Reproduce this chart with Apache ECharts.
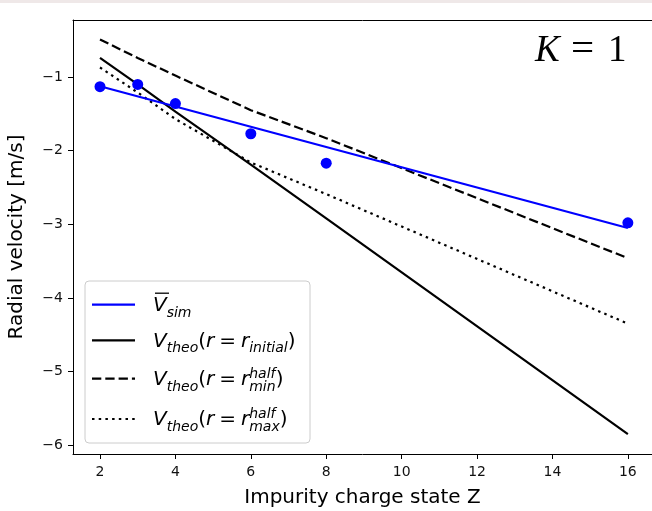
<!DOCTYPE html>
<html><head><meta charset="utf-8">
<script src="https://cdn.jsdelivr.net/npm/echarts@6/dist/echarts.min.js"></script>
<style>html,body{margin:0;padding:0;background:#fff}#c{width:652px;height:511px}</style>
</head><body><div id="c"></div>
<script>
// ---- data ----
const zSim = [2, 3, 4, 6, 8, 16];
const vSim = [-1.13, -1.10, -1.36, -1.77, -2.17, -2.98];
const zFit = [2, 16];
const vFit = [-1.125, -3.05];
const zTheo = [2, 3, 4, 6, 8, 16];
const vTheoInitial = [-0.74, -1.10, -1.47, -2.19, -2.92, -5.85];
const vTheoMinHalf = [-0.49, -0.74, -0.98, -1.45, -1.83, -3.46];
const vTheoMaxHalf = [-0.87, -1.21, -1.57, -2.16, -2.59, -4.35];
const xTicks = [2, 4, 6, 8, 10, 12, 14, 16];
const yTicks = [-6, -5, -4, -3, -2, -1];
const xRange = [1.284, 16.64];
const yRange = [-6.12, -0.225];
const xTitle = 'Impurity charge state Z';
const yTitle = 'Radial velocity [m/s]';

const pair = (xs, ys) => xs.map((x, i) => [x, ys[i]]);
const fmt = v => (v < 0 ? '\u2212' : '') + Math.abs(v);

const chart = echarts.init(document.getElementById('c'), null, {renderer: 'canvas'});

// ---- math-text helper for legend ----
const ctx = document.createElement('canvas').getContext('2d');
const MF = 'DejaVu Sans';
const F = 20;
function tw(t, size, it, fam) { ctx.font = (it ? 'italic ' : '') + size + 'px "' + fam + '"'; return ctx.measureText(t).width; }
function piece(x, base, t, size, it, fam) {
  return {type: 'text', x: x, y: base - 0.34 * size, z: 101, silent: true,
    style: {text: t, fontSize: size, fontFamily: fam, fontStyle: it ? 'italic' : 'normal', fill: '#000', verticalAlign: 'middle', align: 'left'}};
}
function mathRow(x, base, items) {
  const els = []; let pend = 0;
  for (const it of items) {
    const size = F * (it.s || 1), fam = it.fam || MF;
    x += (it.pre || 0) * F;
    els.push(piece(x, base + (it.dy || 0), it.t, size, !!it.i, fam));
    const wd = tw(it.t, size, !!it.i, fam);
    if (it.stack) { pend = Math.max(pend, wd); continue; }
    x += Math.max(wd, pend) + (it.post || 0) * F; pend = 0;
  }
  return els;
}
const SUB = 5, SUP = -8;
const head = [{t: 'V', i: 1}, {t: 'theo', i: 1, s: 0.7, dy: SUB}, {t: '('}, {t: 'r', i: 1}, {t: '=', pre: 0.25, post: 0.25}, {t: 'r', i: 1}];
const legendRows = [
  {base: 312.7, color: '#0000ff', dash: 'solid', items: [{t: 'V', i: 1}, {t: 'sim', i: 1, s: 0.7, dy: SUB}], bar: true},
  {base: 348.3, color: '#000', dash: 'solid', items: head.concat([{t: 'initial', i: 1, s: 0.7, dy: SUB}, {t: ')'}])},
  {base: 386.7, color: '#000', dash: [9.3, 4], items: head.concat([{t: 'half', i: 1, s: 0.7, dy: SUP, stack: 1}, {t: 'min', i: 1, s: 0.7, dy: SUB}, {t: ')'}])},
  {base: 427.0, color: '#000', dash: [2.5, 4.2], items: head.concat([{t: 'half', i: 1, s: 0.7, dy: SUP, stack: 1}, {t: 'max', i: 1, s: 0.7, dy: SUB}, {t: ')'}])}
];
const graphics = [
  {type: 'rect', shape: {x: 0, y: 0, width: 652, height: 3}, style: {fill: '#efe8e8'}, silent: true},
  {type: 'rect', shape: {x: 85, y: 281, width: 225, height: 162, r: 4}, style: {fill: 'rgba(255,255,255,0.8)', stroke: '#cccccc', lineWidth: 1}, z: 100, silent: true}
];
legendRows.forEach(r => {
  graphics.push({type: 'line', shape: {x1: 92, y1: r.base - 8, x2: 135, y2: r.base - 8}, z: 101, silent: true,
    style: {stroke: r.color, lineWidth: 2.2, lineDash: r.dash === 'solid' ? null : r.dash, lineCap: 'butt'}});
  mathRow(153, r.base, r.items).forEach(e => graphics.push(e));
  if (r.bar) graphics.push({type: 'line', shape: {x1: 155, y1: r.base - 19.5, x2: 169, y2: r.base - 19.5}, z: 101, silent: true, style: {stroke: '#000', lineWidth: 1.3}});
});
// K = 1 annotation
const KF = 'Liberation Serif', KS = 37, KB = 64;
graphics.push(piece(535, KB, 'K', KS, true, KF));
graphics.push(piece(571, KB, '=', KS + 4, false, KF));
graphics.push(piece(608, KB, '1', KS, false, KF));

const axisCommon = {
  type: 'value',
  axisLine: {show: true, onZero: false, lineStyle: {color: '#000', width: 1}},
  splitLine: {show: false},
  nameLocation: 'middle',
  nameTextStyle: {fontSize: 20, color: '#000', fontFamily: MF}
};

chart.setOption({
  animation: false,
  textStyle: {fontFamily: MF},
  grid: {left: 73, top: 20, right: 0, height: 434, show: false, containLabel: false, outerBoundsMode: 'none'},
  xAxis: [Object.assign({}, axisCommon, {
    min: xRange[0], max: xRange[1], name: xTitle, nameGap: 34, position: 'bottom',
    axisTick: {show: true, length: 5, customValues: xTicks, lineStyle: {color: '#000'}},
    axisLabel: {customValues: xTicks, formatter: fmt, fontSize: 14, color: '#111', margin: 11}
  }), Object.assign({}, axisCommon, {
    min: xRange[0], max: xRange[1], position: 'top',
    axisTick: {show: false}, axisLabel: {show: false}
  })],
  yAxis: Object.assign({}, axisCommon, {
    min: yRange[0], max: yRange[1], name: yTitle, nameGap: 46,
    axisTick: {show: true, length: 5, customValues: yTicks, lineStyle: {color: '#000'}},
    axisLabel: {customValues: yTicks, formatter: fmt, fontSize: 14, color: '#111', margin: 10}
  }),
  series: [
    {type: 'line', data: pair(zFit, vFit), symbol: 'none', silent: true, lineStyle: {color: '#0000ff', width: 2.2}, z: 3},
    {type: 'line', data: pair(zTheo, vTheoInitial), symbol: 'none', silent: true, lineStyle: {color: '#000', width: 2.2}, z: 2},
    {type: 'line', data: pair(zTheo, vTheoMinHalf), symbol: 'none', silent: true, lineStyle: {color: '#000', width: 2.2, type: [9.3, 4], cap: 'butt'}, z: 2},
    {type: 'line', data: pair(zTheo, vTheoMaxHalf), symbol: 'none', silent: true, lineStyle: {color: '#000', width: 2.2, type: [2.5, 4.2], cap: 'butt'}, z: 2},
    {type: 'scatter', data: pair(zSim, vSim), symbol: 'circle', symbolSize: 11, silent: true, itemStyle: {color: '#0000ff', opacity: 1}, z: 5}
  ],
  graphic: graphics
});
</script></body></html>
